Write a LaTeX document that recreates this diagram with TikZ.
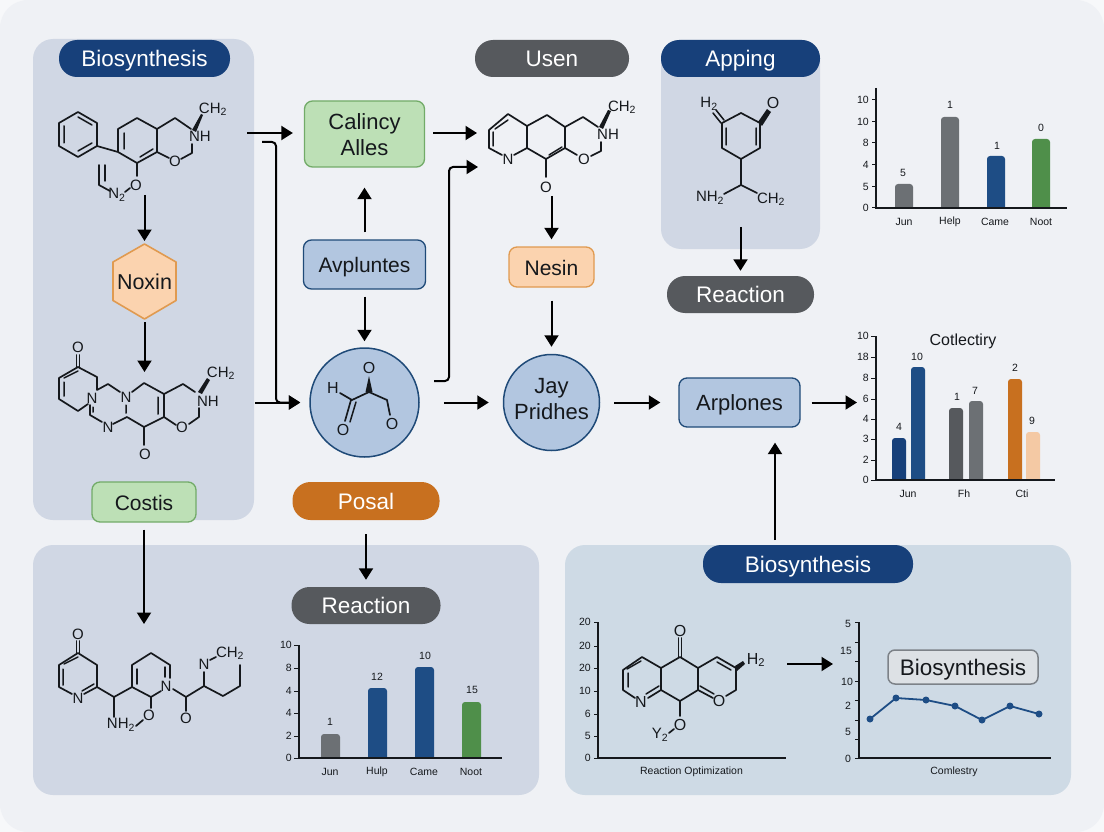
\documentclass[tikz,border=0pt]{standalone}
\usepackage{fontspec}
\setmainfont{Liberation Sans}
\newfontfamily\arialf{Liberation Sans}
\usetikzlibrary{arrows.meta,shapes.geometric,calc}
\definecolor{pagec}{HTML}{F7F8FA}
\definecolor{cardc}{HTML}{EFF1F5}
\definecolor{panela}{HTML}{D0D7E4}
\definecolor{panelb}{HTML}{CEDAE5}
\definecolor{navy}{HTML}{17407A}
\definecolor{navyb}{HTML}{1E4D85}
\definecolor{greyp}{HTML}{56595D}
\definecolor{greyb}{HTML}{6C7074}
\definecolor{orangep}{HTML}{C8701F}
\definecolor{peachb}{HTML}{F4C9A4}
\definecolor{greenb}{HTML}{4F8F4A}
\definecolor{bluef}{HTML}{B2C6E0}
\definecolor{bluee}{HTML}{1F4A78}
\definecolor{greenf}{HTML}{BDE0B6}
\definecolor{greene}{HTML}{72AB68}
\definecolor{peachf}{HTML}{FBD3AF}
\definecolor{peache}{HTML}{E09A50}
\definecolor{inkc}{HTML}{15181C}
\definecolor{labelf}{HTML}{DDE1E5}
\definecolor{labele}{HTML}{7D8288}
\tikzset{
  panel/.style={rounded corners=20pt,fill=#1,draw=none},
  capmid/.style={text height=16pt,text depth=0pt},
  pill/.style={rectangle,rounded corners=18pt,fill=#1,text=white,draw=none,inner sep=0pt,capmid,font=\fontsize{22.5}{26}\selectfont},
  softbox/.style={rectangle,rounded corners=8pt,inner sep=0pt,align=center,line width=1.3pt,text=inkc,font=\fontsize{22}{26}\selectfont},
  flow/.style={draw=black,line width=2pt,-{Triangle[length=11.5pt,width=14pt]}},
  bondst/.style={draw=inkc,line width=1.7pt,line join=round,line cap=round},
  dbl/.style={draw=inkc,line width=1.5pt,line cap=round},
  wedge/.style={fill=inkc,draw=none},
  atom/.style={inner sep=0pt,text=inkc,font=\arialf\fontsize{15}{17}\selectfont},
  bigatom/.style={inner sep=0pt,text=inkc,font=\arialf\fontsize{16}{18}\selectfont},
  axisl/.style={draw=inkc,line width=1.6pt,line join=miter},
  tickl/.style={draw=inkc,line width=1pt},
  chartt/.style={inner sep=0pt,text=inkc,font=\arialf\fontsize{10.5}{12}\selectfont},
}
\newcommand{\vbar}[5]{\fill[#1] (#2,#5) [rounded corners=3pt] -- (#2,#4) -- (#3,#4) [sharp corners] -- (#3,#5) -- cycle;}
\begin{document}
\begin{tikzpicture}[x=1pt,y=-1pt]
\useasboundingbox (0,0) rectangle (1104,832);
\fill[pagec] (0,0) rectangle (1104,832);
\fill[cardc,rounded corners=28pt] (0,0) rectangle (1104,832);
% panels
\fill[panel=panela] (33,39) rectangle (254,520);
\fill[panel=panela] (661,40) rectangle (820,249);
\fill[panel=panela] (33,545) rectangle (539,795);
\fill[panel=panelb] (565,545) rectangle (1071,795);
% pills
\node[pill=navy,minimum width=171pt,minimum height=37pt] (bioa) at (144.5,58.5) {Biosynthesis};
\node[pill=greyp,minimum width=154pt,minimum height=37pt] (usen) at (552,58.5) {Usen};
\node[pill=navy,minimum width=159pt,minimum height=37pt] (apping) at (740.5,58.5) {Apping};
\node[pill=greyp,minimum width=147pt,minimum height=37pt] (reactb) at (740.5,294.5) {Reaction};
\node[pill=greyp,minimum width=149pt,minimum height=37pt] (reactc) at (366,605.5) {Reaction};
\node[pill=orangep,minimum width=147pt,minimum height=38pt] (posal) at (366,501) {Posal};
\node[pill=navy,minimum width=210pt,minimum height=38pt] (biob) at (808,564) {Biosynthesis};
% boxes
\node[softbox,fill=greenf,draw=greene,minimum width=120pt,minimum height=66pt] (calincy) at (364.5,134) {};
\node[inner sep=0pt,align=center,text=inkc,font=\fontsize{22}{26}\selectfont] (calincyt) at (364.5,135) {Calincy\\Alles};
\node[softbox,capmid,fill=bluef,draw=bluee,minimum width=122pt,minimum height=49pt,font=\fontsize{21}{26}\selectfont] (avp) at (364.5,264.5) {Avpluntes};
\node[softbox,capmid,fill=peachf,draw=peache,minimum width=85pt,minimum height=40pt,font=\fontsize{21}{26}\selectfont] (nesin) at (551.5,267) {Nesin};
\node[softbox,capmid,fill=bluef,draw=bluee,minimum width=121pt,minimum height=49pt] (arp) at (739.5,402.5) {Arplones};
\node[softbox,capmid,fill=greenf,draw=greene,minimum width=104pt,minimum height=40pt,font=\fontsize{21}{26}\selectfont] (costis) at (144,502) {Costis};
\coordinate (hexn) at (144.5,244);
\coordinate (hexs) at (144.5,319);
\draw[fill=peachf,draw=peache,line width=1.6pt,line join=round] (hexn)--(176,262)--(176,300.5)--(hexs)--(113,300.5)--(113,262)--cycle;
\node[inner sep=0pt,capmid,text=inkc,font=\fontsize{21.5}{26}\selectfont] (noxin) at (144.5,281.5) {Noxin};
\node[circle,fill=bluef,draw=bluee,line width=1.5pt,minimum size=109pt,inner sep=0pt] (circ) at (364.5,402.5) {};
\node[circle,fill=bluef,draw=bluee,line width=1.5pt,minimum size=96pt,inner sep=0pt] (jay) at (551.5,402.5) {};
\node[inner sep=0pt,align=center,text=inkc,font=\fontsize{22}{26}\selectfont] (jayt) at (551.5,399.5) {Jay\\Pridhes};
% flow connectors
\coordinate (fa) at (247,133);
\coordinate (fb) at (262,142);
\coordinate (fbb) at (276,142);
\coordinate (fbc) at (276,402.5);
\coordinate (fd) at (255,402.5);
\coordinate (fe) at (434,381);
\coordinate (fea) at (449,381);
\coordinate (feb) at (449,167);
\coordinate (fec) at (478,167);
\coordinate (ff) at (477,133);
\coordinate (fg) at (144.5,195);
\coordinate (fh) at (144.5,372);
\coordinate (fi) at (551.5,196);
\coordinate (fj) at (740.5,227);
\coordinate (fk) at (775,540);
\coordinate (fl) at (857,402.5);
\coordinate (fm) at (144,624);
\coordinate (fn) at (787,664);
\coordinate (fo) at (833,664);
\draw[flow,shorten >=11pt] (fa) -- (fa -| calincy.west);
\draw[flow,rounded corners=4pt,shorten >=9pt] (fb) -- (fbb) -- (fbc) -- (circ.west);
\draw[flow,shorten >=9pt] (fd) -- (circ.west);
\draw[flow,rounded corners=4pt] (fe) -- (fea) -- (feb) -- (fec);
\draw[flow,shorten <=8pt] (ff -| calincy.east) -- (ff);
\draw[flow,shorten >=3pt] (fg) -- (hexn);
\draw[flow,shorten <=3pt] (hexs) -- (fh);
\draw[flow,shorten <=7pt,shorten >=20pt] (avp.north) -- (calincy.south);
\draw[flow,shorten <=7pt,shorten >=6pt] (avp.south) -- (circ.north);
\draw[flow,shorten <=24pt,shorten >=14pt] (circ.east) -- (jay.west);
\draw[flow,shorten <=14pt,shorten >=18pt] (jay.east) -- (arp.west);
\draw[flow,shorten <=11pt] (arp.east) -- (fl);
\draw[flow,shorten >=7pt] (fi) -- (nesin.north);
\draw[flow,shorten <=13pt,shorten >=7pt] (nesin.south) -- (jay.north);
\draw[flow,shorten >=5pt] (fj) -- (reactb.north);
\draw[flow,shorten >=15pt] (fk) -- (fk |- arp.south);
\draw[flow,shorten <=7pt] (costis.south) -- (fm);
\draw[flow,shorten <=14pt,shorten >=7pt] (posal.south) -- (reactc.north);
\draw[flow] (fn) -- (fo);

% molecule 1
\draw[bondst] (78,112)--(97,123)--(97,146)--(78,157)--(59,146)--(59,123)--cycle;
\draw[dbl] (64,126)--(64,143) (78,117)--(92,125) (78,151)--(92,143);
\draw[bondst] (97,146)--(118,152)--(118,129)--(137,118)--(157,129)--(157,152)--(137,163)--(118,152);
\draw[dbl] (124,133)--(124,149) (140,157)--(153,149);
\draw[bondst] (157,129)--(175,118)--(191,129) (192,144)--(192,153)--(181,159) (169,158)--(157,152);
\fill[wedge] (192,130)--(196,132)--(203,115)--(201,114)--cycle;
\node[atom] (m1nh) at (200,136) {NH};
\node[atom] (m1o) at (175,161) {O};
\node[atom] (m1ch) at (213,109) {CH\textsubscript{2}};
\node[atom] (m1ob) at (136,185) {O};
\node[atom] (m1n) at (117,195) {N\textsubscript{2}};
\draw[bondst] (137,163)--(137,176) (130,188)--(125,192) (110,191)--(99,185)--(99,165);
\draw[dbl] (105,165)--(105,181);

% molecule 2
\node[atom] (m2o) at (78,347) {O};
\draw[bondst] (76.5,355)--(76.5,367) (79.5,355)--(79.5,367);
\draw[bondst] (78,367)--(59,378)--(59,399)--(78,411)--(88,404);
\draw[bondst] (78,367)--(97,377)--(97,390)--(108,384)--(120,392) (132,392)--(144,383)--(164,394)--(164,417)--(144,427)--(127,417)--(113,424) (102,422)--(90,415)--(90,405);
\draw[dbl] (64,382)--(64,396) (64,378)--(78,371) (93,407)--(93,412) (126,405)--(126,413) (158,397)--(158,414);
\draw[bondst] (164,394)--(183,384)--(195,392) (199,408)--(199,417)--(189,424) (176,425)--(164,417);
\fill[wedge] (198,392)--(202,394)--(210,380)--(207,378)--cycle;
\node[atom] (m2n) at (92,398) {N};
\node[atom] (m2nb) at (126,397) {N};
\node[atom] (m2nc) at (108,427) {N};
\node[atom] (m2nh) at (208,401) {NH};
\node[atom] (m2ob) at (182,427) {O};
\node[atom] (m2ch) at (221,373) {CH\textsubscript{2}};
\draw[bondst] (144,427)--(144,445);
\node[atom] (m2oc) at (145,454) {O};

% circle molecule
\node[bigatom] (cmh) at (333,388) {H};
\node[bigatom] (cmo) at (369,368) {O};
\node[bigatom] (cmob) at (343,430) {O};
\node[bigatom] (cmoc) at (392,424) {O};
\draw[bondst] (340,393)--(352,400)--(369,392)--(387,400)--(390,415) (351,400)--(345,421);
\draw[dbl] (356,402)--(350,422);
\fill[wedge] (369,376)--(365.5,392)--(372.5,392)--cycle;

% molecule 3
\draw[bondst] (502,155)--(489,148)--(489,130)--(508,114)--(527,126)--(527,148)--(514,155);
\draw[dbl] (493,132)--(493,146) (495,129)--(508,120);
\draw[bondst] (527,126)--(547,115)--(565,127)--(565,148)--(546,159)--(527,148);
\draw[dbl] (549,155)--(562,147);
\draw[bondst] (565,127)--(583,117)--(598,127) (601,142)--(601,151)--(591,156) (577,155)--(565,148);
\fill[wedge] (599,127)--(603,129)--(611,111)--(608,110)--cycle;
\node[atom] (m3n) at (508,159) {N};
\node[atom] (m3nh) at (608,134) {NH};
\node[atom] (m3o) at (584,159) {O};
\node[atom] (m3ch) at (622,107) {CH\textsubscript{2}};
\node[atom] (m3ob) at (546,187) {O};
\draw[bondst] (546,159)--(546,177);

% molecule 4
\node[atom] (m4h) at (709,104) {H\textsubscript{2}};
\draw[bondst] (722,123)--(741,113)--(760,123)--(760,148)--(741,159)--(722,148)--cycle;
\draw[dbl] (716,110)--(724,120) (713,113)--(721,123) (726,128)--(726,145) (756,128)--(756,145);
\fill[wedge] (758,122)--(762,126)--(771,112)--(767,109)--cycle;
\node[atom,font=\arialf\fontsize{16}{18}\selectfont] (m4o) at (773,103) {O};
\draw[bondst] (741,159)--(741,185)--(724,194) (741,185)--(757,193);
\node[atom] (m4nh) at (710,198) {NH\textsubscript{2}};
\node[atom] (m4ch) at (771,199) {CH\textsubscript{2}};

% molecule 5
\node[atom] (m5o) at (78,634) {O};
\draw[bondst] (76.5,641)--(76.5,653) (79.5,641)--(79.5,653);
\draw[bondst] (84,694)--(97,687)--(97,665)--(78,653)--(59,665)--(59,687)--(72,694);
\draw[dbl] (63,669)--(63,685) (82,691)--(94,684) (64,664)--(78,657);
\node[atom] (m5n) at (78,698) {N};
\draw[bondst] (97,687)--(114,697)--(132,687)--(132,665)--(151,653)--(170,665)--(170,678) (132,687)--(151,697)--(161,691);
\draw[dbl] (137,669)--(137,684) (165,667)--(165,677);
\draw[bondst] (114,697)--(114,717) (151,697)--(151,708) (143,720)--(136,726);
\node[atom] (m5nb) at (166,686) {N};
\node[atom] (m5nh) at (121,725) {NH\textsubscript{2}};
\node[atom] (m5ob) at (149,715) {O};
\draw[bondst] (173,689)--(186,697)--(204,686)--(223,696)--(240,686)--(240,665) (204,686)--(204,672) (210,660)--(216,657) (186,697)--(186,711);
\node[atom] (m5nc) at (204,664) {N};
\node[atom] (m5ch) at (230,653) {CH\textsubscript{2}};
\node[atom] (m5oc) at (186,718) {O};

% molecule 6
\node[bigatom] (m6o) at (680,631) {O};
\draw[bondst] (678.5,638)--(678.5,657) (681.5,638)--(681.5,657);
\draw[bondst] (635,698)--(623,690)--(623,670)--(642,657)--(661,668)--(661,690)--(648,698);
\draw[bondst] (661,668)--(680,657)--(698,668)--(698,690)--(680,701)--(661,690);
\draw[bondst] (698,668)--(717,657)--(736,668)--(736,690)--(726,696) (698,690)--(713,698);
\draw[dbl] (628,673)--(628,687) (627,669)--(641,661) (646,694)--(659,686) (717,662)--(731,670) (700,686)--(714,694);
\fill[wedge] (735,666)--(737,671)--(745,664)--(743,661)--cycle;
\node[bigatom] (m6n) at (641,702) {N};
\node[bigatom] (m6ob) at (719,701) {O};
\node[bigatom] (m6h) at (756,660) {H\textsubscript{2}};
\draw[bondst] (680,701)--(680,716) (674,729)--(669,733);
\node[bigatom] (m6oc) at (680,725) {O};
\node[atom] (m6y) at (660,735) {Y\textsubscript{2}};

% chart A (top right)
\vbar{greyb}{895}{913}{184}{208}
\vbar{greyb}{941}{959}{117}{208}
\vbar{navyb}{987}{1005}{156}{208}
\vbar{greenb}{1032}{1050}{139}{208}
\draw[axisl] (876,88)--(876,208)--(1067,208);
\foreach \y/\t in {100/10,122/10,143/8,165/4,187/5,208/0}{
  \draw[tickl] (872,\y)--(876,\y);
  \node[chartt,anchor=east] (ca\y) at (869,\y) {\t};
}
\node[chartt] (cav1) at (903,173) {5};
\node[chartt] (cav2) at (950,105) {1};
\node[chartt] (cav3) at (997,146) {1};
\node[chartt] (cav4) at (1041,128) {0};
\node[chartt] (cax1) at (904,222) {Jun};
\node[chartt] (cax2) at (950,222) {Help};
\node[chartt] (cax3) at (995,222) {Came};
\node[chartt] (cax4) at (1041,222) {Noot};

% chart B (middle right)
\vbar{navy}{892}{906}{438}{480}
\vbar{navyb}{911}{925}{367}{480}
\vbar{greyp}{949}{963}{408}{480}
\vbar{greyb}{969}{983}{401}{480}
\vbar{orangep}{1008}{1022}{379}{480}
\vbar{peachb}{1026}{1040}{432}{480}
\draw[axisl] (876,336)--(876,480)--(1055,480);
\foreach \y/\t in {336/10,357/18,378/8,399/6,419/4,439/3,460/2,480/0}{
  \draw[tickl] (871,\y)--(876,\y);
  \node[chartt,anchor=east] (cb\y) at (869,\y) {\t};
}
\node[chartt,font=\arialf\fontsize{16}{18}\selectfont] (cbtitle) at (963,341) {Cotlectiry};
\node[chartt] (cbv1) at (899,427) {4};
\node[chartt] (cbv2) at (917,357) {10};
\node[chartt] (cbv3) at (957,397) {1};
\node[chartt] (cbv4) at (975,391) {7};
\node[chartt] (cbv5) at (1015,368) {2};
\node[chartt] (cbv6) at (1032,421) {9};
\node[chartt] (cbx1) at (908,494) {Jun};
\node[chartt] (cbx2) at (964,494) {Fh};
\node[chartt] (cbx3) at (1022,494) {Cti};

% chart C (bottom left)
\vbar{greyb}{321}{340}{734}{758}
\vbar{navyb}{368}{387}{688}{758}
\vbar{navyb}{415}{434}{667}{758}
\vbar{greenb}{462}{481}{702}{758}
\draw[axisl] (299,645)--(299,758)--(502,758);
\foreach \y/\t in {645/10,668/8,691/4,713/4,736/2,758/0}{
  \draw[tickl] (294,\y)--(299,\y);
  \node[chartt,anchor=east] (cc\y) at (292,\y) {\t};
}
\node[chartt] (ccv1) at (330,722) {1};
\node[chartt] (ccv2) at (377,677) {12};
\node[chartt] (ccv3) at (425,656) {10};
\node[chartt] (ccv4) at (472,690) {15};
\node[chartt] (ccx1) at (330,772) {Jun};
\node[chartt] (ccx2) at (377,772) {Hulp};
\node[chartt] (ccx3) at (424,772) {Came};
\node[chartt] (ccx4) at (471,772) {Noot};

% chart D (bottom middle-right)
\draw[axisl] (598,622)--(598,758)--(786,758);
\foreach \y/\t in {622/20,646/20,668/20,691/10,714/6,736/5,758/0}{
  \draw[tickl] (594,\y)--(598,\y);
  \node[chartt,anchor=east] (cd\y) at (591,\y) {\t};
}
\node[chartt] (cdx) at (691.5,772) {Reaction Optimization};

% chart E (line chart)
\draw[axisl] (859,622)--(859,758)--(1051,758);
\foreach \y in {622,642,661,681,700,720,739,758}{
  \draw[tickl] (855,\y)--(859,\y);
}
\node[chartt] (ce1) at (848,624) {5};
\node[chartt] (ce2) at (846,651) {15};
\node[chartt] (ce3) at (847,682) {10};
\node[chartt] (ce4) at (848,706) {2};
\node[chartt] (ce5) at (848,732) {5};
\node[chartt] (ce6) at (848,759) {0};
\draw[navyb,line width=1.8pt,line join=round] (870,719)--(896,698)--(926,700)--(955,706)--(982,720)--(1010,706)--(1039,714);
\foreach \px/\py in {870/719,896/698,926/700,955/706,982/720,1010/706,1039/714}{
  \fill[navyb] (\px,\py) circle (3.5pt);
}
\node[rectangle,rounded corners=7pt,fill=labelf,draw=labele,line width=1.5pt,minimum width=150pt,minimum height=34pt,inner sep=0pt,capmid,text=inkc,font=\fontsize{22.5}{26}\selectfont] (biolabel) at (963,667) {Biosynthesis};
\node[chartt] (cex) at (954,772) {Comlestry};
\end{tikzpicture}
\end{document}
